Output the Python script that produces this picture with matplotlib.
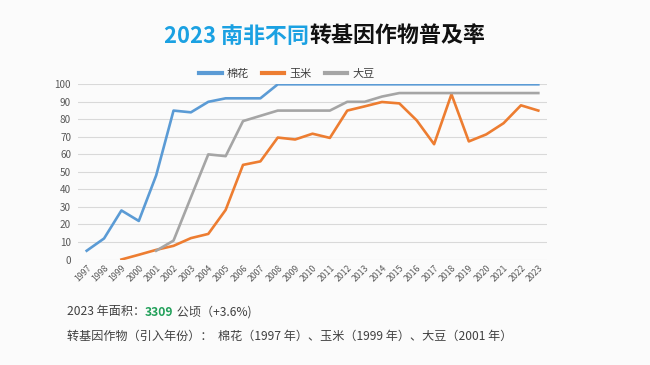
import matplotlib
matplotlib.use("Agg")
import matplotlib.pyplot as plt
import numpy as np

plt.rcParams['font.family'] = ['Noto Sans CJK SC', 'DejaVu Sans']

years = [str(y) for y in range(1997, 2024)]
cotton = [5, 12, 28, 22, 48, 85, 84, 90, 92, 92, 92, 100, 100, 100, 100, 100,
          100, 100, 100, 100, 100, 100, 100, 100, 100, 100, 100]
maize_years = [str(y) for y in range(1999, 2024)]
maize = [0, 2.7, 5.5, 7.8, 12.2, 14.6, 28.3, 54, 56, 69.6, 68.5, 71.8, 69.4,
         85, 87.4, 89.9, 89.1, 79.4, 65.8, 94.3, 67.4, 71.4, 77.8, 88, 85]
soy_years = [str(y) for y in range(2001, 2024)]
soy = [5, 10.8, 35.5, 60, 59, 79, 82, 85, 85, 85, 85, 90, 90, 93, 95, 95,
       95, 95, 95, 95, 95, 95, 95]
series_names = ['棉花', '玉米', '大豆']
colors = ['#5B9BD5', '#ED7D31', '#A5A5A5']

title_blue = '2023 南非不同'
title_black = '转基因作物普及率'
area_pre = '2023 年面积：'
area_val = '3309'
area_post = ' 公顷（+3.6%)'
intro_line = '转基因作物（引入年份）：  棉花（1997 年）、玉米（1999 年）、大豆（2001 年）'

fig = plt.figure(figsize=(6.5, 3.65), dpi=100)
fig.patch.set_facecolor('#fbfbfb')
ax = fig.add_axes([78/650, 1-259.5/365, (547-78)/650, (259.5-84.3)/365])
ax.set_facecolor('#fbfbfb')

idx = {y: i for i, y in enumerate(years)}
ax.plot([idx[y] for y in years], cotton, color=colors[0], lw=1.9, label=series_names[0])
ax.plot([idx[y] for y in maize_years], maize, color=colors[1], lw=1.9, label=series_names[1])
ax.plot([idx[y] for y in soy_years], soy, color=colors[2], lw=1.9, label=series_names[2])

ax.set_xlim(-0.5, len(years) - 0.5)
ax.set_ylim(0, 100)
ax.set_yticks(np.arange(0, 101, 10))
ax.set_xticks(range(len(years)))
ax.set_xticklabels(years, rotation=45, ha='right', va='top', rotation_mode='anchor',
                   fontsize=6.3, color='#595959')
ax.tick_params(axis='y', labelsize=7.2, colors='#595959', length=0, pad=5)
ax.tick_params(axis='x', length=0, pad=3)
ax.grid(axis='y', color='#d9d9d9', lw=0.8)
ax.set_axisbelow(True)
for s in ax.spines.values():
    s.set_visible(False)

leg = fig.legend(loc='center', bbox_to_anchor=(287/650, 1-74/365), ncol=3, frameon=False,
                 fontsize=8, handlelength=2.0, handletextpad=0.45, columnspacing=1.2)
for t in leg.get_texts():
    t.set_color('#404040')
for l in leg.get_lines():
    l.set_linewidth(3)

fig.canvas.draw()
r = fig.canvas.get_renderer()

def seq_text(parts, x0, y, center=False):
    objs = []
    for txt, kw in parts:
        objs.append(fig.text(0, y, txt, va='center', ha='left', **kw))
    widths = [o.get_window_extent(r).width / fig.bbox.width for o in objs]
    if center:
        x0 = x0 - sum(widths) / 2
    x = x0
    for o, w in zip(objs, widths):
        o.set_x(x)
        x += w

seq_text([(title_blue, dict(color='#1BA1E2', fontsize=15.8, fontweight='bold')),
          (title_black, dict(color='#111111', fontsize=15.8, fontweight='bold'))],
         325/650, 1-36/365, center=True)

seq_text([(area_pre, dict(color='#404040', fontsize=8.7)),
          (area_val, dict(color='#22A05A', fontsize=8.7, fontweight='bold')),
          (area_post, dict(color='#404040', fontsize=8.7))],
         67/650, 1-312/365)
fig.text(67/650, 1-336/365, intro_line, color='#404040', fontsize=8.7, va='center', ha='left')

fig.savefig('out.png', dpi=100, facecolor=fig.get_facecolor())
